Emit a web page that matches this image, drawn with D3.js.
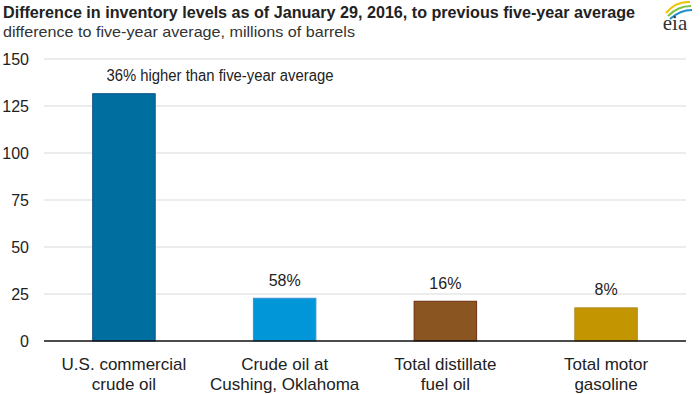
<!DOCTYPE html>
<html><head><meta charset="utf-8">
<script src="https://cdn.jsdelivr.net/npm/d3@7"></script>
<style>
body{margin:0;background:#fff;}
svg{display:block;}
text{font-family:"Liberation Sans Narrow","Arial Narrow","Liberation Sans",sans-serif;}
</style></head>
<body><svg id="c" width="700" height="394"></svg>
<script>
const categories = [["U.S. commercial","crude oil"],["Crude oil at","Cushing, Oklahoma"],["Total distillate","fuel oil"],["Total motor","gasoline"]];
const values = [131.8, 23.0, 21.4, 17.9];
const barLabels = ["36% higher than five-year average","58%","16%","8%"];
const colors = ["#006fa0","#0096d7","#8b5522","#c39500"];
const strokes = ["#0b4f86","#3e8fd0","#6b2e10","#b08a20"];
const yTicks = [0,25,50,75,100,125,150];

const svg = d3.select("#c");
const m = {l:44, r:14, t:59, b:53};
const W = 700, H = 394;
const x = d3.scaleBand().domain(d3.range(values.length)).range([m.l, W-m.r]).paddingInner(0.605).paddingOuter(0.3);
const y = d3.scaleLinear().domain([0,150]).range([341, 59]);

svg.append("text").attr("x",3).attr("y",18).attr("font-size",16).attr("font-weight","bold").attr("fill","#222")
  .attr("textLength",632).attr("lengthAdjust","spacingAndGlyphs")
  .text("Difference in inventory levels as of January 29, 2016, to previous five-year average");
svg.append("text").attr("x",3).attr("y",37).attr("font-size",15).attr("fill","#333")
  .attr("textLength",352).attr("lengthAdjust","spacingAndGlyphs")
  .text("difference  to five-year  average,  millions  of barrels");

// logo
const lg = svg.append("g").attr("transform","translate(675,0)");
lg.append("path").attr("d","M-9,13 Q1,1 15,2").attr("fill","none").attr("stroke","#f2c200").attr("stroke-width",2);
lg.append("path").attr("d","M-7,16 Q3,6 16,6").attr("fill","none").attr("stroke","#7cc242").attr("stroke-width",2);
lg.append("path").attr("d","M-5,19 Q5,10 17,10").attr("fill","none").attr("stroke","#1f8fd0").attr("stroke-width",2);
lg.append("text").attr("x",0).attr("y",30).attr("text-anchor","middle").attr("font-size",21)
  .style("font-family","'Liberation Serif','DejaVu Serif',serif").attr("fill","#333").text("eia");

// grid
svg.append("g").selectAll("line").data(yTicks.filter(d=>d>0)).join("line")
  .attr("x1",m.l).attr("x2",W-m.r).attr("y1",d=>y(d)).attr("y2",d=>y(d))
  .attr("stroke","#d9d9d9").attr("stroke-width",1);

// y axis
const ya = svg.append("g").attr("transform",`translate(${m.l},0)`)
  .call(d3.axisLeft(y).tickValues(yTicks).tickSize(0).tickPadding(15));
ya.select(".domain").remove();
ya.selectAll("text").attr("font-size",16).attr("fill","#222").style("font-family","'Liberation Sans Narrow','Arial Narrow',sans-serif");

// bars
svg.append("g").selectAll("rect").data(values).join("rect")
  .attr("x",(d,i)=>x(i)+0.5).attr("y",d=>y(d)+0.5)
  .attr("width",x.bandwidth()-1).attr("height",d=>y(0)-y(d)-0.5)
  .attr("fill",(d,i)=>colors[i]).attr("stroke",(d,i)=>strokes[i]).attr("stroke-width",1);

// baseline
svg.append("line").attr("x1",m.l).attr("x2",W-m.r).attr("y1",y(0)).attr("y2",y(0)).attr("stroke","#111").attr("stroke-width",1.5);

// value labels
svg.append("g").selectAll("text").data(values).join("text")
  .attr("x",(d,i)=> i===0 ? x(i)+x.bandwidth()/2+96 : x(i)+x.bandwidth()/2)
  .attr("y",d=>y(d)-12)
  .attr("text-anchor","middle").attr("font-size",16).attr("fill","#222")
  .each(function(d,i){ if(i===0) d3.select(this).attr("textLength",227).attr("lengthAdjust","spacingAndGlyphs"); })
  .text((d,i)=>barLabels[i]);

// x labels
const xl = svg.append("g").selectAll("text").data(categories).join("text")
  .attr("text-anchor","middle").attr("font-size",17).attr("fill","#222");
xl.each(function(d,i){
  const t = d3.select(this);
  d.forEach((s,k)=>t.append("tspan").attr("x",x(i)+x.bandwidth()/2).attr("y",370+k*20).text(s));
});
</script></body></html>
